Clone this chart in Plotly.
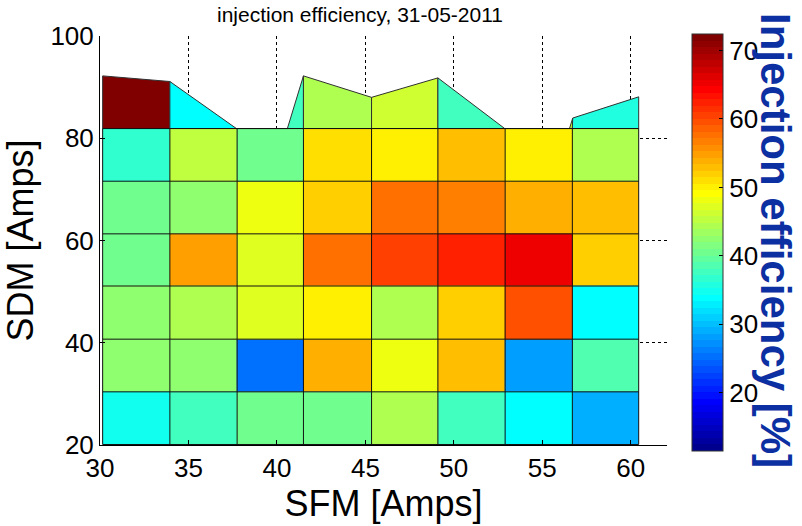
import plotly.graph_objects as go

# ---- data -----------------------------------------------------------------
# cell edges of the regular SFM x SDM scan grid (Amps)
sfm_edges = [30.15, 33.95, 37.75, 41.5, 45.35, 49.1, 52.9, 56.7, 60.45]
sdm_edges = [20.1, 30.4, 40.7, 51.1, 61.3, 71.6, 81.9]

# injection efficiency [%], rows from lowest SDM upwards, columns along SFM
eff_row1 = [34.6, 37.9, 40.3, 40.3, 43.9, 37.3, 34.3, 28.7]
eff_row2 = [42.4, 42.4, 25.7, 53.4, 48.2, 52.5, 27.8, 38.5]
eff_row3 = [42.4, 44.8, 46.9, 50.5, 44.8, 51.6, 59.1, 33.4]
eff_row4 = [40.3, 55.2, 46.9, 57.9, 60.9, 62.1, 65.7, 51.6]
eff_row5 = [40.3, 42.1, 48.4, 51.6, 57.9, 56.4, 53.4, 52.5]
eff_row6 = [37.0, 45.7, 40.3, 50.8, 49.6, 52.5, 49.6, 44.8]
eff = [eff_row1, eff_row2, eff_row3, eff_row4, eff_row5, eff_row6]

# last scan row: measured set points do not lie on the regular grid
top_x = [30.15, 33.95, 40.08, 41.5, 45.35, 49.1, 55.85, 56.72, 60.45]
top_y = [92.2, 91.1, 76.1, 92.2, 88.0, 91.8, 74.1, 83.95, 88.1]
top_eff = [72.4, 34.3, 37.3, 43.9, 46.6, 37.3, 46.3, 36.1]

c_min, c_max = 11.5, 72.4
x_ticks = [30, 35, 40, 45, 50, 55, 60]
y_ticks = [20, 40, 60, 80, 100]
cbar_ticks = [20, 30, 40, 50, 60, 70]


# ---- 64-level jet colormap ------------------------------------------------
def jet_levels(m=64):
    n = m // 4
    u = [i / n for i in range(1, n + 1)] + [1.0] * (n - 1) + [i / n for i in range(n, 0, -1)]
    lut = [[0.0, 0.0, 0.0] for _ in range(m)]
    for k, val in enumerate(u):
        gi = n // 2 + k
        if 0 <= gi < m:
            lut[gi][1] = val
        if 0 <= gi + n < m:
            lut[gi + n][0] = val
        if 0 <= gi - n < m:
            lut[gi - n][2] = val
    return ["rgb(%d,%d,%d)" % tuple(round(255 * c) for c in rgb) for rgb in lut]


JET = jet_levels()
N_LEV = len(JET)
jet_scale = []
for i, col in enumerate(JET):
    jet_scale.append([i / N_LEV, col])
    jet_scale.append([(i + 1) / N_LEV, col])


def level_color(v):
    idx = int((v - c_min) / (c_max - c_min) * N_LEV)
    return JET[max(0, min(N_LEV - 1, idx))]


def clip_above(poly, y0):
    """Keep the part of a polygon lying at or above y = y0."""
    out = []
    for i in range(len(poly)):
        (x1, y1), (x2, y2) = poly[i], poly[(i + 1) % len(poly)]
        in1, in2 = y1 >= y0, y2 >= y0
        if in1:
            out.append((x1, y1))
        if in1 != in2:
            t = (y0 - y1) / (y2 - y1)
            out.append((x1 + t * (x2 - x1), y0))
    return out


fig = go.Figure()

# irregular top row as filled quadrilaterals
base = sdm_edges[-1]
for i, v in enumerate(top_eff):
    quad = [(sfm_edges[i], base), (sfm_edges[i + 1], base),
            (top_x[i + 1], top_y[i + 1]), (top_x[i], top_y[i])]
    pts = clip_above(quad, base)
    if len(pts) < 3:
        continue
    xs = [p[0] for p in pts] + [pts[0][0]]
    ys = [p[1] for p in pts] + [pts[0][1]]
    fig.add_trace(go.Scatter(
        x=xs, y=ys, mode="lines", fill="toself",
        fillcolor=level_color(v), line=dict(color="#303030", width=1),
        hoverinfo="skip", showlegend=False))

# regular grid
fig.add_trace(go.Heatmap(
    x=sfm_edges, y=sdm_edges, z=eff,
    zmin=c_min, zmax=c_max, colorscale=jet_scale,
    colorbar=dict(
        tickvals=cbar_ticks, ticks="inside", ticklen=4, tickcolor="black",
        tickfont=dict(family="Liberation Sans, Arial", size=26, color="black"),
        thickness=31, thicknessmode="pixels",
        len=417, lenmode="pixels",
        x=1.0436, xanchor="left", xpad=0,
        y=0.495, yanchor="middle", ypad=0,
        outlinecolor="#333333", outlinewidth=1,
    ),
    hoverongaps=False, showlegend=False))

# black cell borders of the regular grid
gx, gy = [], []
for xe in sfm_edges:
    gx += [xe, xe, None]
    gy += [sdm_edges[0], sdm_edges[-1], None]
for ye in sdm_edges:
    gx += [sfm_edges[0], sfm_edges[-1], None]
    gy += [ye, ye, None]
fig.add_trace(go.Scatter(x=gx, y=gy, mode="lines",
                         line=dict(color="#111111", width=1),
                         hoverinfo="skip", showlegend=False))

axis_font = dict(family="Liberation Sans, Arial", size=26, color="black")
fig.update_xaxes(
    range=[30, 62.05], tickvals=x_ticks, ticks="inside", ticklen=5,
    tickcolor="black", showline=True, linecolor="black", linewidth=1,
    mirror=False, showgrid=True, gridcolor="black", gridwidth=1,
    griddash="3px,3px", zeroline=False, tickfont=axis_font,
    title=dict(text="SFM [Amps]", standoff=6,
               font=dict(family="Liberation Sans, Arial", size=36, color="black")))
fig.update_yaxes(
    range=[20, 100], tickvals=y_ticks, ticks="inside", ticklen=5,
    tickcolor="black", showline=True, linecolor="black", linewidth=1,
    mirror=False, showgrid=True, gridcolor="black", gridwidth=1,
    griddash="3px,3px", zeroline=False, tickfont=axis_font,
    title=dict(text="SDM [Amps]", standoff=8,
               font=dict(family="Liberation Sans, Arial", size=36, color="black")))

fig.update_layout(
    width=802, height=526,
    margin=dict(l=100, r=135, t=36, b=79),
    paper_bgcolor="white", plot_bgcolor="white",
    title=dict(text="injection efficiency, 31-05-2011",
               x=360 / 802, xanchor="center", y=1 - 15 / 526, yanchor="middle",
               font=dict(family="Liberation Sans, Arial", size=21, color="black")),
    annotations=[dict(
        text="<b>Injection efficiency [%]</b>", textangle=90,
        xref="paper", yref="paper", x=(776 - 100) / 567, y=(447.3 - 241) / 411.6,
        xanchor="center", yanchor="middle", showarrow=False,
        font=dict(family="Liberation Sans, Arial", size=42, color="#0C30A2"))],
)

fig.write_html("out.html")
